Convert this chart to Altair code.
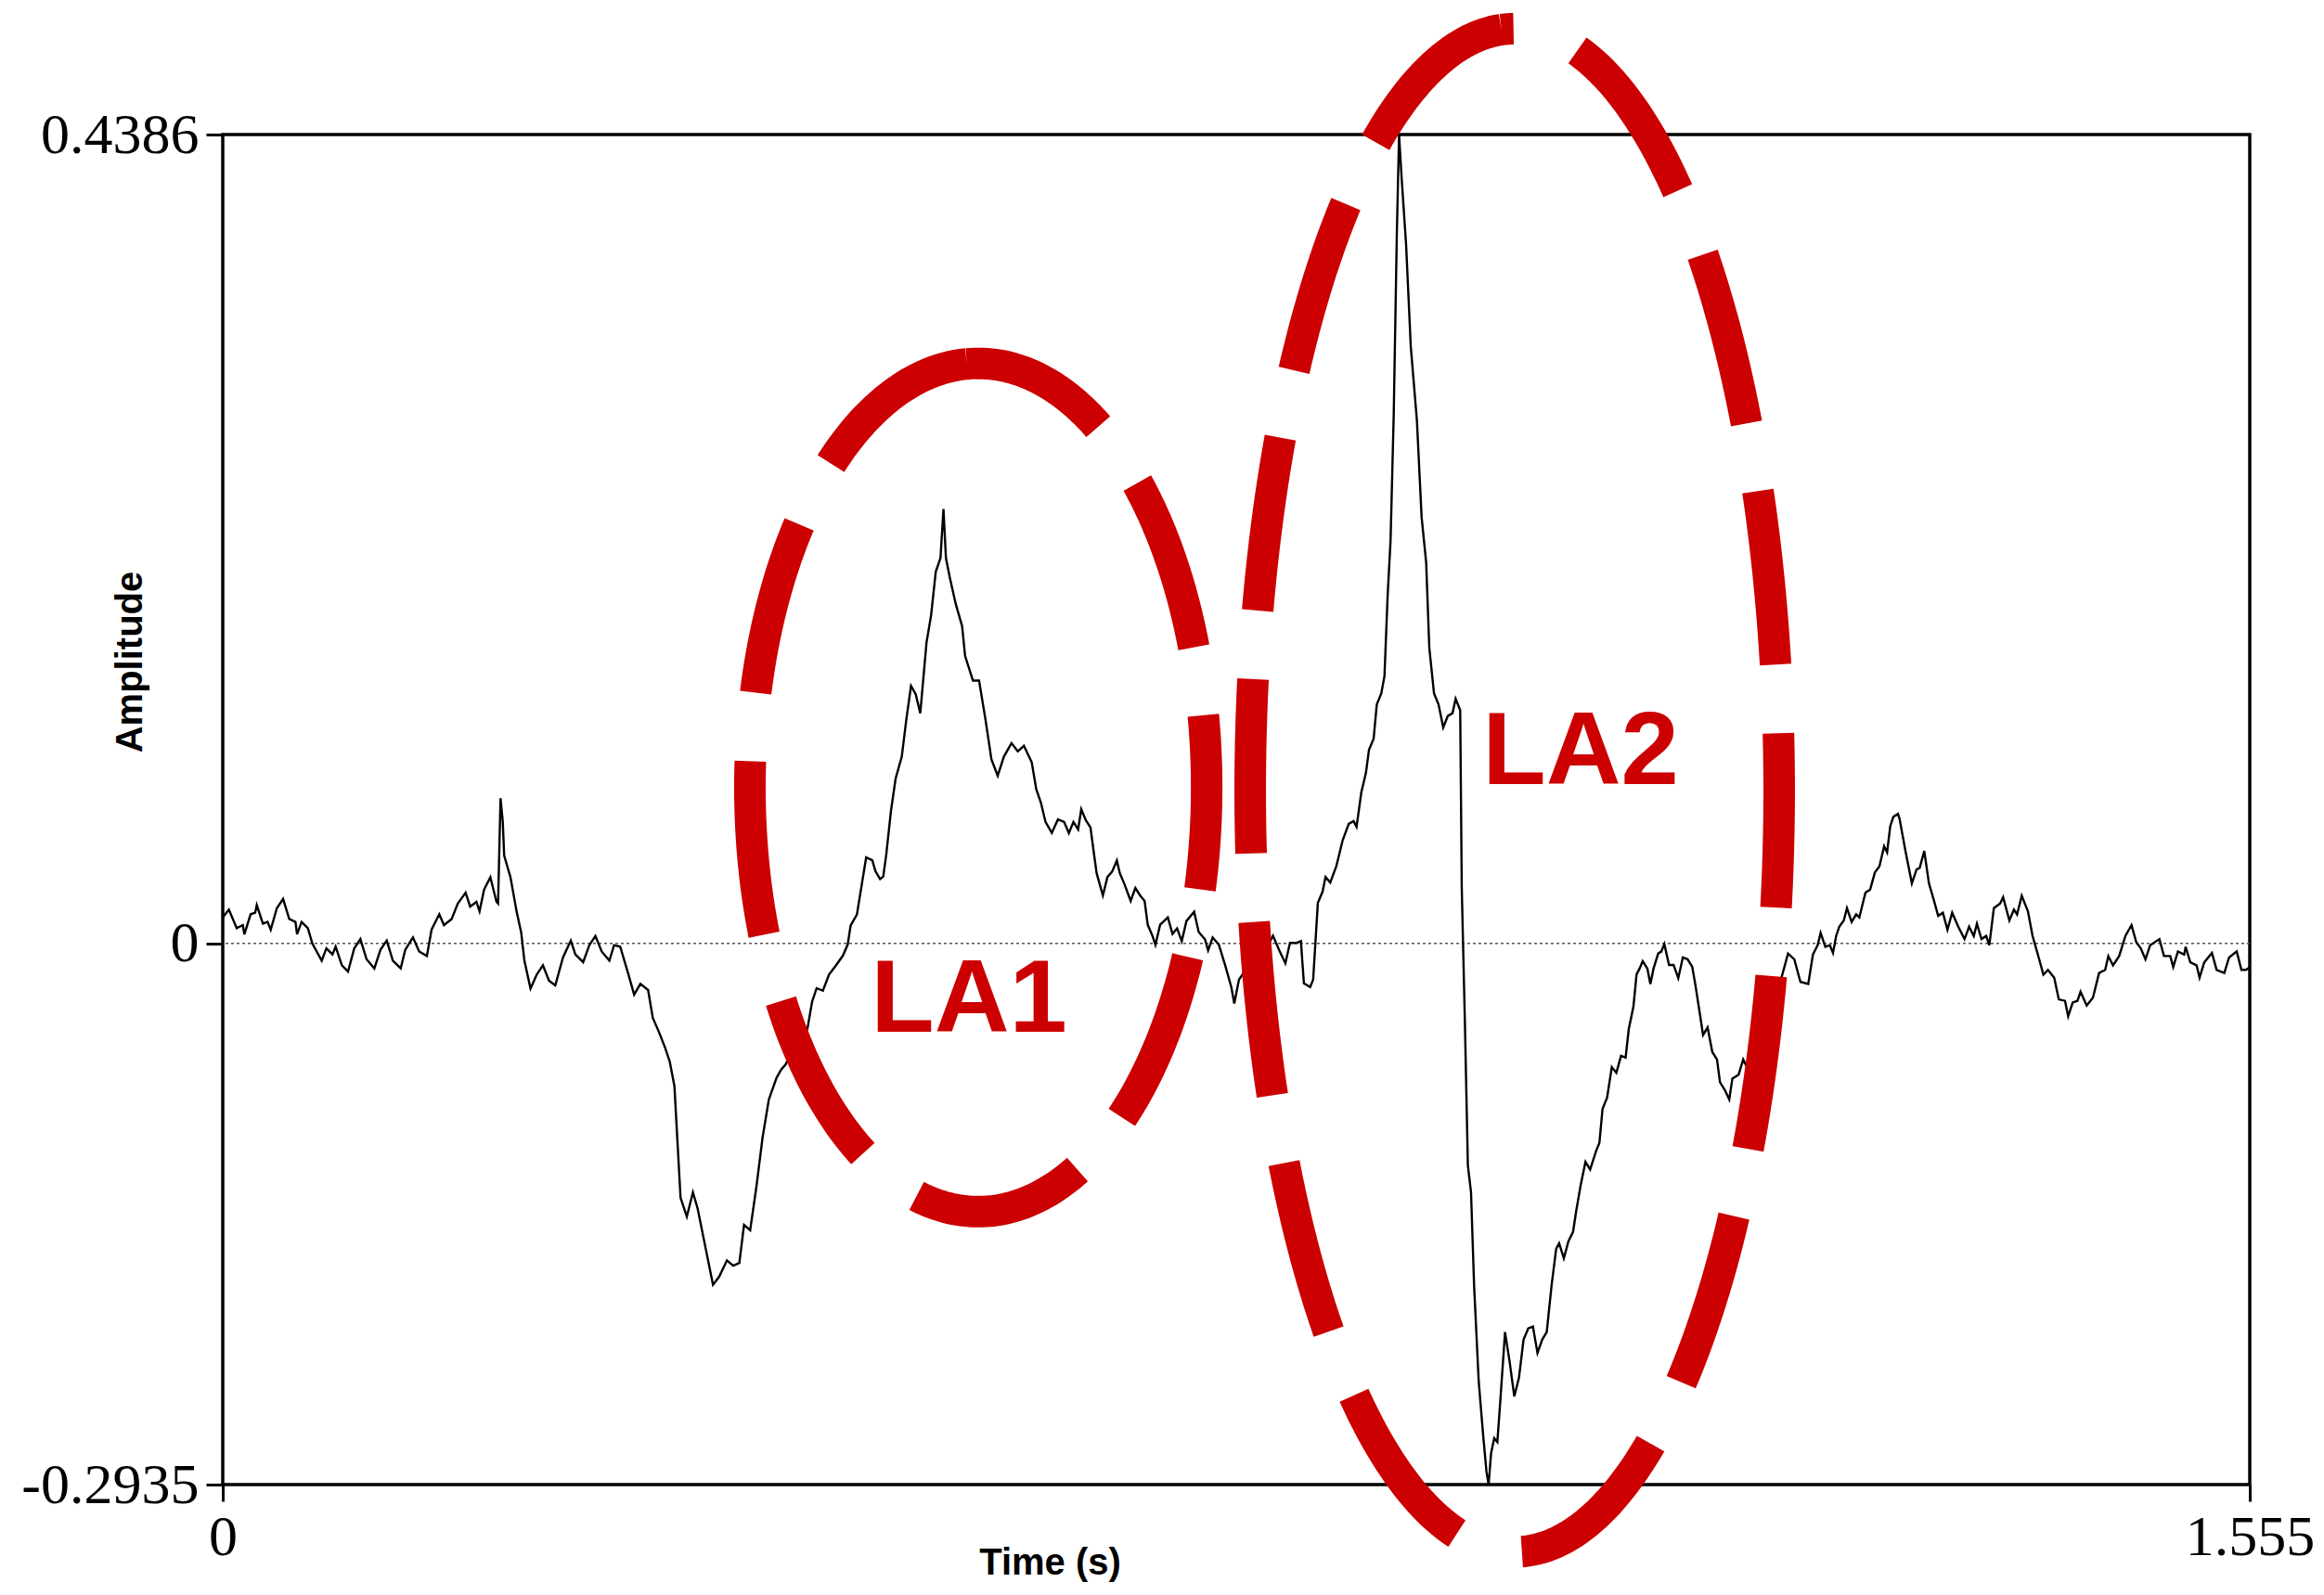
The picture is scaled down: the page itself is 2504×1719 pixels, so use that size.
import altair as alt
import numpy as np
import pandas as pd

# ---- waveform samples: (time in s, amplitude) ----
seg_baseline = [
    (0.0000, 0.0141), (0.0047, 0.0183), (0.0107, 0.0082), (0.0154, 0.0099), (0.0166, 0.0049),
    (0.0214, 0.0158), (0.0249, 0.0166), (0.0261, 0.0208), (0.0308, 0.0107), (0.0344, 0.0116),
    (0.0368, 0.0074), (0.0415, 0.0191), (0.0463, 0.0241), (0.0510, 0.0132), (0.0558, 0.0116),
    (0.0570, 0.0049), (0.0605, 0.0116), (0.0653, 0.0082), (0.0688, -0.0002), (0.0759, -0.0094),
    (0.0795, -0.0027), (0.0842, -0.0060), (0.0866, -0.0018), (0.0914, -0.0119), (0.0961, -0.0153),
    (0.1009, -0.0027), (0.1056, 0.0023), (0.1103, -0.0086), (0.1163, -0.0136), (0.1210, -0.0035),
    (0.1258, 0.0015), (0.1305, -0.0094), (0.1365, -0.0136), (0.1400, -0.0035), (0.1459, 0.0032),
    (0.1507, -0.0044), (0.1566, -0.0069), (0.1602, 0.0074), (0.1661, 0.0158), (0.1697, 0.0099),
    (0.1756, 0.0132), (0.1803, 0.0216), (0.1863, 0.0275), (0.1898, 0.0200), (0.1946, 0.0225),
    (0.1970, 0.0174), (0.2005, 0.0292), (0.2053, 0.0359), (0.2100, 0.0225), (0.2112, 0.0216),
    (0.2131, 0.0787), (0.2148, 0.0661), (0.2159, 0.0476), (0.2207, 0.0359), (0.2254, 0.0174),
    (0.2290, 0.0057), (0.2314, -0.0094), (0.2361, -0.0245), (0.2409, -0.0169), (0.2456, -0.0119),
    (0.2503, -0.0203), (0.2551, -0.0228), (0.2610, -0.0077), (0.2670, 0.0015), (0.2705, -0.0060),
    (0.2765, -0.0102), (0.2812, -0.0010), (0.2859, 0.0040), (0.2907, -0.0044), (0.2966, -0.0094),
    (0.3002, -0.0010), (0.3049, -0.0018), (0.3109, -0.0161), (0.3156, -0.0278), (0.3204, -0.0220),
    (0.3263, -0.0253), (0.3299, -0.0404), (0.3346, -0.0480),
]
seg_la1 = [
    (0.3394, -0.0567), (0.3429, -0.0641), (0.3465, -0.0774), (0.3489, -0.1084), (0.3512, -0.1379),
    (0.3560, -0.1482), (0.3607, -0.1350), (0.3643, -0.1438), (0.3702, -0.1645), (0.3761, -0.1852),
    (0.3809, -0.1807), (0.3868, -0.1719), (0.3916, -0.1748), (0.3963, -0.1733), (0.3999, -0.1527),
    (0.4046, -0.1556), (0.4094, -0.1320), (0.4141, -0.1054), (0.4189, -0.0848), (0.4248, -0.0730),
    (0.4283, -0.0686), (0.4319, -0.0656), (0.4366, -0.0582), (0.4438, -0.0523), (0.4485, -0.0464),
    (0.4521, -0.0317), (0.4556, -0.0243), (0.4604, -0.0257), (0.4651, -0.0169), (0.4699, -0.0125),
    (0.4758, -0.0066), (0.4794, -0.0007), (0.4817, 0.0097), (0.4865, 0.0156), (0.4912, 0.0362),
    (0.4936, 0.0466), (0.4983, 0.0451), (0.5007, 0.0392), (0.5043, 0.0348), (0.5067, 0.0362),
    (0.5090, 0.0481), (0.5126, 0.0717), (0.5162, 0.0894), (0.5209, 0.1012), (0.5245, 0.1219),
    (0.5280, 0.1396), (0.5316, 0.1351), (0.5351, 0.1248), (0.5399, 0.1632), (0.5434, 0.1779),
    (0.5470, 0.2016), (0.5506, 0.2089), (0.5529, 0.2355), (0.5548, 0.2089), (0.5577, 0.1986),
    (0.5624, 0.1838), (0.5672, 0.1720), (0.5695, 0.1558), (0.5755, 0.1425), (0.5802, 0.1425),
    (0.5850, 0.1219), (0.5897, 0.0997), (0.5945, 0.0909), (0.5992, 0.1012), (0.6051, 0.1086),
    (0.6099, 0.1041), (0.6146, 0.1071), (0.6206, 0.0982), (0.6241, 0.0835), (0.6277, 0.0761),
    (0.6312, 0.0658), (0.6360, 0.0599), (0.6407, 0.0672), (0.6455, 0.0658),
]
seg_mid = [
    (0.6491, 0.0598), (0.6526, 0.0658), (0.6562, 0.0618), (0.6586, 0.0727), (0.6621, 0.0668),
    (0.6657, 0.0628), (0.6681, 0.0499), (0.6704, 0.0380), (0.6752, 0.0260), (0.6787, 0.0360),
    (0.6823, 0.0389), (0.6859, 0.0449), (0.6882, 0.0380), (0.6918, 0.0320), (0.6965, 0.0230),
    (0.7001, 0.0300), (0.7037, 0.0260), (0.7072, 0.0230), (0.7096, 0.0101), (0.7132, 0.0041),
    (0.7155, -0.0008), (0.7191, 0.0101), (0.7250, 0.0141), (0.7286, 0.0051), (0.7321, 0.0081),
    (0.7357, 0.0012), (0.7393, 0.0121), (0.7452, 0.0171), (0.7487, 0.0061), (0.7535, 0.0022),
    (0.7559, -0.0038), (0.7594, 0.0032), (0.7642, -0.0008), (0.7689, -0.0117), (0.7737, -0.0237),
    (0.7760, -0.0326), (0.7796, -0.0197), (0.7855, -0.0137), (0.7891, -0.0217), (0.7938, -0.0167),
    (0.7974, -0.0157), (0.8010, -0.0018), (0.8057, 0.0041), (0.8105, -0.0038), (0.8152, -0.0108),
    (0.8187, 0.0002), (0.8235, 0.0002), (0.8271, 0.0012), (0.8294, -0.0217), (0.8342, -0.0237),
    (0.8365, -0.0197), (0.8401, 0.0220), (0.8437, 0.0280), (0.8460, 0.0360), (0.8496, 0.0330),
    (0.8543, 0.0419), (0.8591, 0.0558), (0.8638, 0.0648),
]
seg_la2_peak = [
    (0.8675, 0.0663), (0.8698, 0.0632), (0.8734, 0.0817), (0.8770, 0.0925), (0.8793, 0.1048),
    (0.8829, 0.1110), (0.8853, 0.1295), (0.8888, 0.1356), (0.8912, 0.1449), (0.8936, 0.1880),
    (0.8959, 0.2188), (0.8983, 0.2865), (0.9007, 0.3851), (0.9024, 0.4386), (0.9043, 0.4159),
    (0.9078, 0.3789), (0.9114, 0.3235), (0.9161, 0.2835), (0.9197, 0.2311), (0.9232, 0.2065),
    (0.9256, 0.1603), (0.9292, 0.1356), (0.9327, 0.1295), (0.9363, 0.1171), (0.9398, 0.1233),
    (0.9434, 0.1248), (0.9458, 0.1326), (0.9493, 0.1264), (0.9505, 0.0300),
]
seg_la2_trough = [
    (0.9529, -0.0425), (0.9552, -0.1205), (0.9576, -0.1349), (0.9600, -0.1862), (0.9635, -0.2375),
    (0.9671, -0.2683), (0.9695, -0.2868), (0.9711, -0.2935), (0.9730, -0.2765), (0.9754, -0.2683),
    (0.9778, -0.2704), (0.9801, -0.2478), (0.9837, -0.2108), (0.9873, -0.2273), (0.9908, -0.2457),
    (0.9944, -0.2355), (0.9979, -0.2149), (1.0015, -0.2088), (1.0051, -0.2078), (1.0086, -0.2221),
    (1.0122, -0.2149), (1.0157, -0.2108), (1.0193, -0.1862), (1.0229, -0.1657), (1.0252, -0.1626),
    (1.0288, -0.1708), (1.0323, -0.1616), (1.0359, -0.1564), (1.0383, -0.1451), (1.0418, -0.1308),
    (1.0454, -0.1185), (1.0490, -0.1226), (1.0537, -0.1123), (1.0561, -0.1082), (1.0585, -0.0897),
    (1.0620, -0.0836), (1.0656, -0.0671), (1.0691, -0.0702), (1.0727, -0.0610), (1.0762, -0.0620),
    (1.0786, -0.0466), (1.0822, -0.0343), (1.0846, -0.0168), (1.0869, -0.0137), (1.0893, -0.0096),
    (1.0929, -0.0137), (1.0952, -0.0220), (1.0976, -0.0137), (1.1012, -0.0055), (1.1035, -0.0045),
    (1.1059, -0.0004), (1.1095, -0.0117), (1.1130, -0.0117), (1.1166, -0.0189), (1.1201, -0.0076),
    (1.1237, -0.0086), (1.1273, -0.0127), (1.1296, -0.0220), (1.1332, -0.0384), (1.1356, -0.0497),
    (1.1391, -0.0456), (1.1427, -0.0589), (1.1463, -0.0630), (1.1486, -0.0753), (1.1522, -0.0794),
    (1.1557, -0.0846), (1.1581, -0.0733), (1.1629, -0.0712), (1.1664, -0.0630), (1.1700, -0.0682),
    (1.1866, -0.0425), (1.2008, -0.0055), (1.2056, -0.0086), (1.2103, -0.0209),
]
seg_tail = [
    (1.2163, -0.0220), (1.2199, -0.0061), (1.2235, -0.0010), (1.2258, 0.0057), (1.2294, -0.0019),
    (1.2329, -0.0010), (1.2353, -0.0052), (1.2377, 0.0040), (1.2401, 0.0090), (1.2436, 0.0124),
    (1.2460, 0.0191), (1.2496, 0.0116), (1.2531, 0.0157), (1.2555, 0.0141), (1.2602, 0.0275),
    (1.2638, 0.0292), (1.2674, 0.0384), (1.2709, 0.0417), (1.2745, 0.0526), (1.2768, 0.0493),
    (1.2792, 0.0635), (1.2816, 0.0686), (1.2851, 0.0702), (1.2863, 0.0677), (1.2911, 0.0493),
    (1.2958, 0.0325), (1.2994, 0.0401), (1.3018, 0.0409), (1.3053, 0.0501), (1.3089, 0.0325),
    (1.3124, 0.0241), (1.3160, 0.0149), (1.3196, 0.0166), (1.3231, 0.0074), (1.3267, 0.0166),
    (1.3314, 0.0090), (1.3362, 0.0023), (1.3397, 0.0090), (1.3433, 0.0040), (1.3457, 0.0107),
    (1.3492, 0.0023), (1.3528, 0.0040), (1.3552, -0.0010), (1.3587, 0.0191), (1.3635, 0.0216),
    (1.3658, 0.0250), (1.3706, 0.0124), (1.3741, 0.0183), (1.3765, 0.0157), (1.3801, 0.0258),
    (1.3848, 0.0174), (1.3884, 0.0040), (1.3931, -0.0077), (1.3967, -0.0170), (1.4002, -0.0144),
    (1.4050, -0.0186), (1.4085, -0.0304), (1.4133, -0.0312), (1.4157, -0.0396), (1.4192, -0.0321),
    (1.4228, -0.0312), (1.4252, -0.0262), (1.4299, -0.0337), (1.4347, -0.0295), (1.4394, -0.0161),
    (1.4441, -0.0144), (1.4465, -0.0069), (1.4501, -0.0119), (1.4548, -0.0069), (1.4596, 0.0040),
    (1.4643, 0.0099), (1.4679, 0.0007), (1.4714, -0.0027), (1.4750, -0.0086), (1.4786, -0.0010),
    (1.4857, 0.0023), (1.4892, -0.0069), (1.4940, -0.0069), (1.4963, -0.0128), (1.4999, -0.0044),
    (1.5047, -0.0061), (1.5058, -0.0019), (1.5094, -0.0103), (1.5142, -0.0119), (1.5165, -0.0186),
    (1.5201, -0.0103), (1.5260, -0.0052), (1.5296, -0.0144), (1.5355, -0.0161), (1.5391, -0.0077),
    (1.5450, -0.0044), (1.5486, -0.0144), (1.5521, -0.0144), (1.5550, -0.0130),
]

# ---- axes ----
x_domain = [0, 1.555]
y_domain = [-0.2935, 0.4386]
x_ticks = [0, 1.555]
y_ticks = [-0.2935, 0, 0.4386]
x_title = "Time (s)"
y_title = "Amplitude"

# ---- annotations (data units) ----
region_names = ["LA1", "LA2"]
region_center_t = [0.5796, 0.9911]
region_center_amp = [0.0845, 0.0830]
region_radius_t = [0.1752, 0.2029]
region_radius_amp = [0.2300, 0.4130]
label_t = [0.5725, 1.0417]
label_amp = [-0.0478, 0.0865]

RED = "#CC0000"

samples = seg_baseline + seg_la1 + seg_mid + seg_la2_peak + seg_la2_trough + seg_tail
wave_df = pd.DataFrame(samples, columns=["t", "amp"])

rows = []
theta = np.linspace(np.pi / 2 + 0.05, np.pi / 2 + 0.05 + 2 * np.pi, 361)
for name, ct, ca, rt, ra in zip(region_names, region_center_t, region_center_amp,
                                region_radius_t, region_radius_amp):
    for i, th in enumerate(theta):
        rows.append({"region": name, "i": i,
                     "t": ct + rt * np.cos(th), "amp": ca + ra * np.sin(th)})
ellipse_df = pd.DataFrame(rows)
label_df = pd.DataFrame({"t": label_t, "amp": label_amp, "text": region_names})
zero_df = pd.DataFrame({"amp": [0.0]})

x_scale = alt.Scale(domain=x_domain, nice=False, zero=False)
y_scale = alt.Scale(domain=y_domain, nice=False, zero=False)

common_axis = dict(
    labelExpr="'' + datum.value", grid=False, domain=False,
    tickSize=18, tickWidth=3, tickColor="black",
    labelFont="Liberation Serif", labelFontSize=62, labelColor="black",
    labelPadding=8, labelFlush=False, labelOverlap=False, labelBound=False, labelLimit=0,
    titleFont="Liberation Sans", titleFontSize=40, titleFontWeight="bold",
    titleColor="black",
)
x_axis = alt.Axis(values=x_ticks, titleX=891, titleY=64, titleBaseline="top", **common_axis)
y_axis = alt.Axis(values=y_ticks, titleX=-80, titleY=568, **common_axis)

X = alt.X("t:Q", scale=x_scale, axis=x_axis, title=x_title)
Y = alt.Y("amp:Q", scale=y_scale, axis=y_axis, title=y_title)

zero_line = alt.Chart(zero_df).mark_rule(
    color="#555555", strokeWidth=1.6, strokeDash=[3, 3]
).encode(y=Y)

wave = alt.Chart(wave_df).mark_line(color="black", strokeWidth=2.4).encode(x=X, y=Y)

ellipses = alt.Chart(ellipse_df).mark_line(
    color=RED, strokeWidth=34, strokeDash=[188, 74], strokeCap="butt", clip=False
).encode(x=X, y=Y, detail="region:N", order="i:Q")

labels = alt.Chart(label_df).mark_text(
    color=RED, font="Liberation Sans", fontWeight="bold", fontSize=112,
    align="center", baseline="alphabetic"
).encode(x=X, y=Y, text="text:N")

chart = alt.layer(zero_line, wave, ellipses, labels).properties(
    width=2184, height=1455,
    autosize=alt.AutoSizeParams(type="none"),
    padding={"left": 232, "top": 137, "right": 72, "bottom": 110},
    background="white",
).configure_view(stroke="black", strokeWidth=3.5)

chart.save("out.html", embed_options={"renderer": "svg", "actions": False})
